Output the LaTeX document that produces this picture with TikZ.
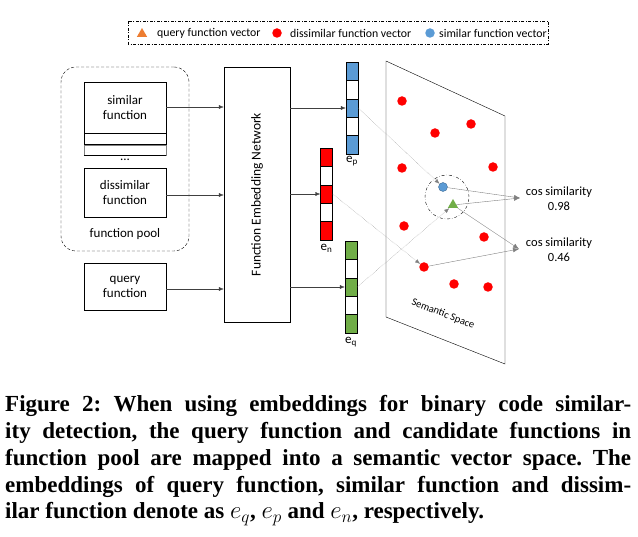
\documentclass[tikz,border=0pt]{standalone}
\usepackage{fontspec}
\setmainfont{Carlito}
\newfontfamily\capfont{Liberation Serif}
\usetikzlibrary{positioning,arrows.meta,shapes.geometric}

\definecolor{vblue}{HTML}{5B9BD5}
\definecolor{vred}{HTML}{FF0000}
\definecolor{vgreen}{HTML}{70AD47}
\definecolor{vorange}{HTML}{ED7D31}
\definecolor{lgray}{HTML}{404040}

\tikzset{
  fnbox/.style={draw, minimum width=82pt, align=center, inner sep=0pt,
    font=\fontsize{13}{15}\selectfont},
  cell/.style={draw, minimum width=12pt, minimum height=18.4pt, inner sep=0pt},
  reddot/.style={circle, fill=vred, inner sep=0pt, minimum size=9.5pt},
  feed/.style={draw=lgray, -{Latex[length=5pt,width=4pt]}},
  proj/.style={draw=gray, densely dotted, -{Latex[length=5pt,width=4pt]}},
  simline/.style={draw=gray, -{Latex[length=6pt,width=4.5pt]}},
  smalltext/.style={font=\fontsize{12.5}{15}\selectfont},
  legtext/.style={font=\fontsize{11.8}{14}\selectfont, anchor=west, inner sep=0pt}
}

\begin{document}
\begin{tikzpicture}[x=1pt,y=-1pt]
  \useasboundingbox (0,0) rectangle (638,537);

  % legend
  \draw[dash pattern=on 3pt off 1.5pt on 1pt off 1.5pt] (128,21) rectangle (548,44);
  \node[regular polygon, regular polygon sides=3, fill=vorange, inner sep=0pt, minimum size=12pt] (lq) at (142,34) {};
  \node[legtext] (lqt) at (157,33) {query function vector};
  \node[reddot] (ln) at (277,33) {};
  \node[legtext] (lnt) at (290,33) {dissimilar function vector};
  \node[circle, fill=vblue, inner sep=0pt, minimum size=9.5pt] (lp) at (430,33) {};
  \node[legtext] (lpt) at (439,33) {similar function vector};

  % function pool
  \node[draw, densely dashed, rounded corners=15pt, minimum width=128pt, minimum height=184pt] (pool) at (125,159) {};
  \node[fnbox, minimum height=51pt] (sf) at (125,107.5) {similar\\function};
  \node[draw, minimum width=82pt, minimum height=10.5pt, inner sep=0pt, below=0pt of sf] (sf2) {};
  \node[draw=gray, minimum width=82pt, minimum height=10pt, inner sep=0pt, below=1pt of sf2] (sf3) {};
  \draw (sf3.south west) -- (sf3.south east);
  \node[font=\fontsize{13}{15}\selectfont] (dots) at (125,160) {...};
  \node[fnbox, minimum height=49pt] (df) at (125,192.5) {dissimilar\\function};
  \node[font=\fontsize{13}{15}\selectfont] (pooltxt) at (125,234) {function pool};
  \node[fnbox, minimum height=47pt] (qf) at (125,286.5) {query\\function};

  % network
  \node[draw, minimum width=66pt, minimum height=255pt] (fen) at (257,194.5) {};
  \node[rotate=90, font=\fontsize{13.5}{15}\selectfont] (fentxt) at (fen.center) {Function Embedding Network};

  \draw[feed] (sf.east |- 0,107) -- (fen.west |- 0,107);
  \draw[feed] (df.east |- 0,195) -- (fen.west |- 0,195);
  \draw[feed] (qf.east |- 0,289) -- (fen.west |- 0,289);

  % embedding vectors
  \foreach \v/\x/\y/\c in {ep/352/62/vblue, en/326.5/148/vred, eq/351/241/vgreen}{
    \foreach \i in {1,...,5}{
      \ifodd\i \colorlet{cellc}{\c}\else\colorlet{cellc}{white}\fi
      \node[cell, fill=cellc] (\v\i) at (\x, \y+18.4*\i-9.2) {};
    }
  }
  \node[font=\fontsize{13}{15}\selectfont, below=2pt of ep5, inner sep=0pt] (epl) {e\textsubscript{p}};
  \node[font=\fontsize{13}{15}\selectfont, below=4pt of en5, inner sep=0pt] (enl) {e\textsubscript{n}};
  \node[font=\fontsize{13}{15}\selectfont, below=4pt of eq5, inner sep=0pt] (eql) {e\textsubscript{q}};

  \draw[feed] (fen.east |- ep3) -- (ep3.west);
  \draw[feed] (fen.east |- en3) -- (en3.west);
  \draw[feed] (fen.east |- eq3) -- (eq3.west);

  % semantic space
  \coordinate (s1) at (386,61);
  \coordinate (s2) at (505,116);
  \coordinate (s3) at (505,364);
  \coordinate (s4) at (386,317);
  \draw (s1) -- (s2) -- (s3) -- (s4) -- cycle;
  \node[rotate=-21.5, font=\fontsize{10.5}{12}\selectfont] (semtxt) at (443,314) {Semantic Space};

  \foreach \n/\px/\py in {1/402/101, 2/435/133, 3/471/124, 4/402/168, 5/493/167,
                          6/404/226, 7/484/237, 8/424/267, 9/454/284, 10/488/287}
    \node[reddot] (d\n) at (\px,\py) {};
  \node[circle, fill=vblue, draw=vblue!70!black, inner sep=0pt, minimum size=9pt] (pos) at (443,187) {};
  \node[regular polygon, regular polygon sides=3, fill=vgreen, inner sep=0pt, minimum size=12pt] (qry) at (453,205) {};
  \node[draw, circle, dash dot, minimum size=44pt] (near) at (447,197) {};

  \draw[proj] (ep3.east) -- (pos);
  \draw[proj] (en3.east) -- (d8);
  \draw[proj] (eq3.east) -- (qry);

  % cosine similarities
  \node[smalltext, align=center] (cos1) at (559,199) {cos similarity\\0.98};
  \node[smalltext, align=center] (cos2) at (559,250) {cos similarity\\0.46};
  \coordinate (t1) at (520,198);
  \coordinate (t2) at (519,249);
  \draw[simline] (pos) -- (t1);
  \draw[simline] (qry) -- (t1);
  \draw[simline] (qry) -- (t2);
  \draw[simline] (d8) -- (t2);

  % caption
  \node[anchor=north west, text width=626pt, align=justify, inner sep=0pt,
        font=\capfont\bfseries\fontsize{23}{26.9}\selectfont\frenchspacing] (caption) at (5,395)
    {Figure 2: When using embeddings for binary code similar-\linebreak
     ity detection, the query function and candidate functions in\linebreak
     function pool are mapped into a semantic vector space. The\linebreak
     embeddings of query function, similar function and dissim-\linebreak
     ilar function denote as $e_q$, $e_p$ and $e_n$, respectively.};
\end{tikzpicture}
\end{document}
